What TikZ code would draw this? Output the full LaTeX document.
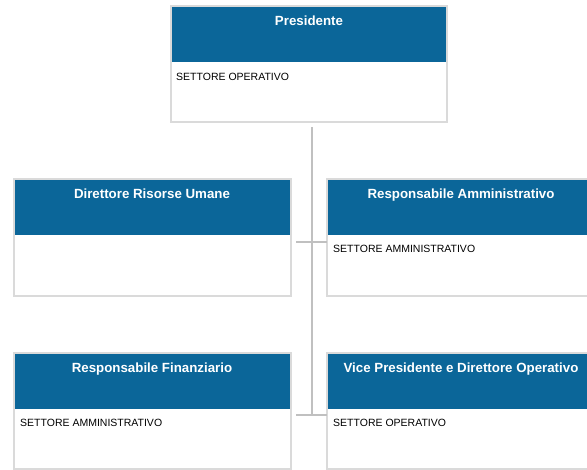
\documentclass[tikz,border=0pt]{standalone}
\usepackage{fontspec}
\setmainfont{Liberation Sans}
\definecolor{hdr}{RGB}{11,102,153}
\definecolor{framec}{RGB}{218,218,218}
\definecolor{conn}{RGB}{192,192,192}
\begin{document}
\begin{tikzpicture}[x=1pt,y=-1pt,
  card/.style={draw=framec, line width=2pt, fill=white, rectangle, anchor=north west, inner sep=0pt, outer sep=0pt},
  head/.style={fill=hdr, rectangle, anchor=north west, inner sep=0pt, outer sep=0pt},
  ttl/.style={text=white, font=\fontsize{13.3}{16}\selectfont\bfseries, anchor=base, inner sep=0pt},
  sub/.style={font=\fontsize{10.5}{12}\selectfont, anchor=base west, inner sep=0pt},
  link/.style={draw=conn, line width=2pt}]
\useasboundingbox (0,0) rectangle (587,470);

% top box
\node[card, minimum width=276pt, minimum height=116pt] (pres) at (171,6) {};
\node[head, minimum width=274pt, minimum height=55pt] (presh) at (172,7) {};
\node[ttl] (prest) at (309,26) {Presidente};
\node[sub] (press) at (176,81) {SETTORE OPERATIVO};

% left row 1
\node[card, minimum width=277pt, minimum height=117pt] (hr) at (14,179) {};
\node[head, minimum width=275pt, minimum height=55pt] (hrh) at (15,180) {};
\node[ttl] (hrt) at (152,199) {Direttore Risorse Umane};

% right row 1
\node[card, minimum width=268pt, minimum height=117pt] (amm) at (327,179) {};
\node[head, minimum width=266pt, minimum height=55pt] (ammh) at (328,180) {};
\node[ttl] (ammt) at (461,199) {Responsabile Amministrativo};
\node[sub] (amms) at (333,253) {SETTORE AMMINISTRATIVO};

% left row 2
\node[card, minimum width=277pt, minimum height=116pt] (fin) at (14,353) {};
\node[head, minimum width=275pt, minimum height=55pt] (finh) at (15,354) {};
\node[ttl] (fint) at (152,373) {Responsabile Finanziario};
\node[sub] (fins) at (20,427) {SETTORE AMMINISTRATIVO};

% right row 2
\node[card, minimum width=268pt, minimum height=116pt] (vp) at (327,353) {};
\node[head, minimum width=266pt, minimum height=55pt] (vph) at (328,354) {};
\node[ttl] (vpt) at (461,373) {Vice Presidente e Direttore Operativo};
\node[sub] (vps) at (333,427) {SETTORE OPERATIVO};

% connectors
\coordinate (trunktop) at (312,127);
\coordinate (trunkbot) at (312,416);
\coordinate (j1l) at (296,242);
\coordinate (j1r) at (amm.west |- 0,242);
\coordinate (j2l) at (296,415);
\coordinate (j2r) at (vp.west |- 0,415);
\draw[link] (trunktop) -- (trunkbot);
\draw[link] (j1l) -- (j1r);
\draw[link] (j2l) -- (j2r);
\end{tikzpicture}
\end{document}
